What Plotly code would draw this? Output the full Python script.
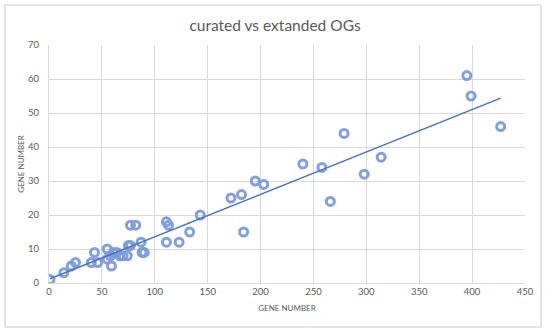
import numpy as np
import plotly.graph_objects as go

# data
x_vals = [1, 14, 21, 25, 40, 43, 46, 55, 55, 58, 59, 61, 64, 67, 70, 74, 75, 77, 77, 82,
          87, 88, 90, 111, 113, 111, 123, 133, 143, 172, 182, 184, 195, 203,
          240, 258, 266, 279, 298, 314, 395, 399, 427]
y_vals = [1, 3, 5, 6, 6, 9, 6, 10, 7, 8, 5, 9, 9, 8, 8, 8, 11, 11, 17, 17,
          12, 9, 9, 18, 17, 12, 12, 15, 20, 25, 26, 15, 30, 29,
          35, 34, 24, 44, 32, 37, 61, 55, 46]

title_text = "curated vs extanded OGs"
x_title = "GENE NUMBER"
y_title = "GENE NUMBER"

slope, intercept = np.polyfit(x_vals, y_vals, 1)
tx = np.array([min(x_vals), max(x_vals)])
ty = slope * tx + intercept

FONT = "Lato"
MC = "rgba(125,155,218,0.95)"
fig = go.Figure()
fig.add_trace(go.Scatter(
    x=x_vals, y=y_vals, mode="markers",
    marker=dict(symbol="circle-open", size=8, color=MC, line=dict(width=3, color=MC)),
    showlegend=False, hoverinfo="x+y"))
fig.add_trace(go.Scatter(
    x=tx, y=ty, mode="lines", line=dict(color="#4472C4", width=1.5),
    showlegend=False, hoverinfo="skip"))

L, R, T, B = 49, 25, 45, 51
W, H = 550, 334
pw, ph = W - L - R, H - T - B

fig.update_layout(
    width=W, height=H, margin=dict(l=L, r=R, t=T, b=B),
    paper_bgcolor="white", plot_bgcolor="white",
    font=dict(family=FONT, color="#595959"),
    title=dict(text=title_text, x=0.5, xanchor="center", y=1 - 26 / H, yanchor="middle",
               font=dict(size=15.5, color="#595959", family=FONT)),
    xaxis=dict(range=[0, 450], dtick=50, showgrid=True, gridcolor="#D9D9D9", gridwidth=1,
               zeroline=False, showline=True, linecolor="#D9D9D9", mirror=False,
               tickfont=dict(size=9.5, color="#595959"), ticks="",
               title=dict(text=x_title, font=dict(size=8, color="#595959"), standoff=8)),
    yaxis=dict(range=[0, 70], dtick=10, showgrid=True, gridcolor="#D9D9D9", gridwidth=1,
               zeroline=False, showline=True, linecolor="#D9D9D9",
               tickfont=dict(size=9.5, color="#595959"), ticks="", ticklabelstandoff=7,
               title=dict(text=y_title, font=dict(size=8, color="#595959"), standoff=2)),
    shapes=[dict(type="rect", xref="paper", yref="paper",
                 x0=(5 - L) / pw, x1=(541 - L) / pw,
                 y0=-(327 - (H - B)) / ph, y1=1 + (T - 5) / ph,
                 line=dict(color="#CFCFCF", width=1.2), fillcolor="rgba(0,0,0,0)", layer="above")],
)

fig.write_html("out.html", config={"displayModeBar": False},
               post_script="document.body.style.margin='0';")
